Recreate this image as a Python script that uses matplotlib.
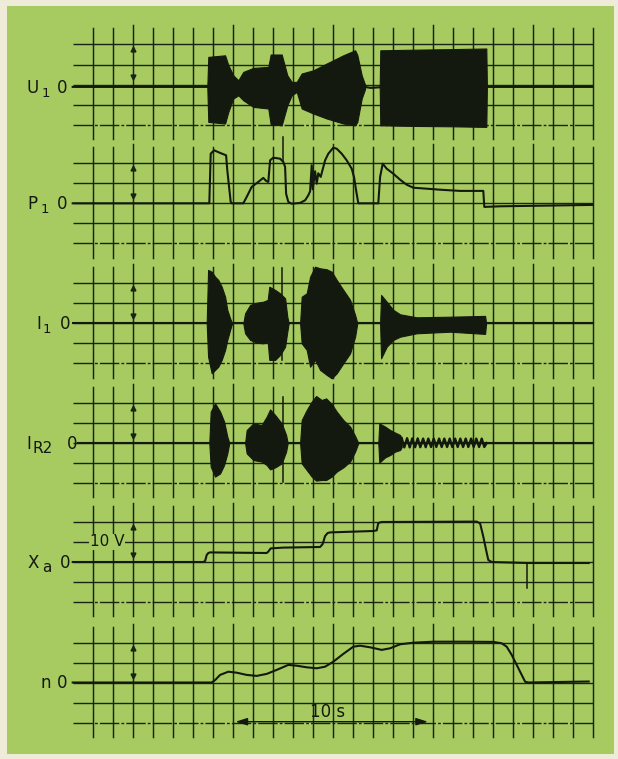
"""
Six-channel chart-recorder strip: U1, P1, I1, IR2, Xa, n on a common time base.
1 s per division, amplitudes in divisions.
"""

import matplotlib.pyplot as plt
from matplotlib.patches import Rectangle

# ----------------------------
# Sheet layout (pixels, 20 px per division)
# ----------------------------
W, H = 618, 759
DIV = 20.0
T0_PX = 92.7                     # first vertical grid line
ZERO_ROWS = [84.5, 203.3, 323.3, 443.0, 562.0, 682.5]
TRACE_SHIFT = [-0.12, 0, 0, 0, 0, 0]
N_COLS = 25

PAPER = "#a7ca61"
BORDER = "#efebd9"
INK = "#141910"
GRID = "#1b2314"

# ----------------------------
# U1 - envelope of the oscillating voltage
# ----------------------------
u1_t = [5.73, 5.78, 6.62, 6.78, 7.03, 7.28, 7.53, 8.03, 8.78, 8.90, 9.45,
        9.73, 9.95, 10.20, 10.45, 11.03, 11.70, 12.53, 13.12, 13.23, 13.45, 13.62]
u1_hi = [0, 1.50, 1.58, 1.09, 0.58, 0.33, 0.75, 0.95, 1.00, 1.62, 1.62,
         0.58, 0.25, 0.25, 0.67, 0.83, 1.17, 1.58, 1.83, 1.60, 0.58, 0.10]
u1_lo = [0, -1.75, -1.83, -1.25, -0.58, -0.42, -0.67, -1.00, -1.08, -1.88, -1.92,
         -0.92, -0.42, -0.25, -1.08, -1.33, -1.58, -1.83, -1.92, -1.75, -0.58, -0.10]
u1_block_t = [14.35, 14.38, 16.0, 18.0, 19.68, 19.71]
u1_block_hi = [0, 1.83, 1.86, 1.89, 1.92, 0]
u1_block_lo = [0, -1.92, -1.95, -1.97, -2.00, 0]
u1_line_t = [-1.0, 13.6, 13.9, 14.35, 19.7, 25.0]
u1_line_v = [0, 0, -0.05, -0.02, 0, 0]

# ----------------------------
# P1 - power
# ----------------------------
p1_t = [-1.0, 5.83, 5.90, 6.07, 6.37, 6.67, 6.73, 6.90, 6.95, 7.53, 7.70, 7.95,
        8.28, 8.53, 8.67, 8.78, 8.87, 9.03, 9.37, 9.53, 9.62, 9.67, 9.78, 9.95,
        10.37, 10.62, 10.78, 10.87, 10.95, 11.00, 11.12, 11.20, 11.28, 11.40,
        11.62, 11.78, 12.03, 12.20, 12.45, 12.70, 12.95, 13.07, 13.17, 13.28,
        14.28, 14.37, 14.50, 14.70, 15.03, 15.37, 15.70, 16.03, 16.70, 17.37,
        18.37, 19.53, 19.58, 20.37, 25.0]
p1_v = [0, 0, 2.48, 2.65, 2.52, 2.40, 1.65, 0.07, 0, 0, 0.32, 0.82,
        1.07, 1.27, 1.12, 1.07, 2.15, 2.28, 2.23, 2.07, 1.82, 0.48, 0.07, -0.02,
        0.02, 0.15, 0.40, 0.60, 1.90, 0.70, 1.60, 0.98, 1.50, 1.32,
        2.15, 2.48, 2.78, 2.73, 2.48, 2.15, 1.73, 1.30, 0.65, 0,
        0, 1.32, 1.98, 1.73, 1.48, 1.18, 0.93, 0.78, 0.73, 0.68,
        0.62, 0.62, -0.18, -0.15, -0.08]

# ----------------------------
# I1 - current bursts (upper / lower envelope)
# ----------------------------
i1_bursts = [
    ([5.70, 5.77, 5.95, 6.12, 6.28, 6.45, 6.62, 6.73, 6.87, 6.97],
     [0, 2.67, 2.58, 2.33, 2.17, 1.83, 1.33, 0.67, 0.25, 0],
     [0, -1.67, -2.50, -2.33, -2.17, -1.83, -1.33, -0.83, -0.33, 0]),
    ([7.53, 7.62, 7.87, 8.20, 8.53, 8.75, 8.83, 9.12, 9.37, 9.62, 9.73, 9.80],
     [0, 0.50, 0.92, 1.03, 1.08, 1.17, 1.83, 1.67, 1.50, 1.25, 0.33, 0],
     [0, -0.50, -0.83, -0.97, -1.00, -0.92, -1.83, -1.83, -1.58, -1.17, -0.42, 0]),
    ([10.37, 10.45, 10.70, 10.87, 11.12, 11.37, 11.70, 11.95, 12.20, 12.53,
      12.87, 13.12, 13.23],
     [0, 1.33, 1.50, 2.33, 2.83, 2.75, 2.70, 2.58, 2.17, 1.67, 1.17, 0.42, 0],
     [0, -1.00, -1.33, -2.17, -1.83, -2.33, -2.58, -2.75, -2.50, -2.00, -1.50, -0.67, 0]),
    ([14.37, 14.42, 14.70, 15.03, 15.37, 16.20, 17.87, 19.62, 19.67],
     [0, 1.42, 1.08, 0.67, 0.45, 0.30, 0.33, 0.37, 0],
     [0, -1.75, -1.17, -0.83, -0.67, -0.50, -0.42, -0.53, 0]),
]

# ----------------------------
# IR2 - rotor current
# ----------------------------
ir2_bursts = [
    ([5.83, 5.90, 6.12, 6.37, 6.57, 6.73, 6.83],
     [0, 1.57, 1.98, 1.57, 1.07, 0.32, 0],
     [0, -1.18, -1.68, -1.52, -1.10, -0.52, 0]),
    ([7.62, 7.70, 8.03, 8.45, 8.70, 8.87, 9.12, 9.45, 9.67, 9.75],
     [0, 0.65, 0.98, 0.90, 1.32, 1.68, 1.40, 0.98, 0.40, 0],
     [0, -0.52, -0.85, -0.93, -1.10, -1.32, -1.22, -1.02, -0.43, 0]),
    ([10.37, 10.45, 10.70, 10.95, 11.17, 11.45, 11.67, 11.95, 12.20, 12.53,
      12.87, 13.12, 13.28],
     [0, 1.15, 1.65, 2.07, 2.35, 2.15, 2.23, 1.95, 1.57, 1.15, 0.82, 0.35, 0],
     [0, -1.02, -1.35, -1.68, -1.88, -1.85, -1.85, -1.68, -1.43, -1.22, -0.93, -0.43, 0]),
    ([14.28, 14.33, 14.62, 14.87, 15.12, 15.37, 15.45],
     [0, 0.98, 0.82, 0.65, 0.52, 0.40, 0.22],
     [0, -0.98, -0.72, -0.60, -0.43, -0.35, -0.20]),
]
ir2_ripple_t = [15.45, 15.58, 15.72, 15.85, 15.98, 16.12, 16.25, 16.38, 16.52,
                16.65, 16.78, 16.92, 17.05, 17.18, 17.32, 17.45, 17.58, 17.72,
                17.85, 17.98, 18.12, 18.25, 18.38, 18.52, 18.65, 18.78, 18.92,
                19.05, 19.18, 19.32, 19.45, 19.58, 19.70]
ir2_ripple_v = [0.24, -0.22, 0.24, -0.22, 0.23, -0.21, 0.23, -0.21, 0.22,
                -0.21, 0.22, -0.20, 0.22, -0.20, 0.22, -0.20, 0.22, -0.20,
                0.22, -0.20, 0.22, -0.20, 0.22, -0.20, 0.22, -0.20, 0.22,
                -0.20, 0.22, -0.20, 0.22, -0.20, 0]

# ----------------------------
# Xa - controller output (10 V per division)
# ----------------------------
xa_t = [-1.0, 5.53, 5.62, 5.70, 5.78, 5.87, 8.70, 8.78, 8.90, 9.53, 11.37,
        11.50, 11.62, 11.75, 11.87, 14.03, 14.20, 14.28, 14.45, 19.20, 19.37,
        19.53, 19.67, 19.78, 19.95, 21.70, 24.8]
xa_v = [0, 0, 0.05, 0.35, 0.45, 0.48, 0.45, 0.52, 0.68, 0.72, 0.75,
        0.90, 1.30, 1.45, 1.48, 1.55, 1.58, 1.95, 2.00, 2.02, 1.93,
        1.27, 0.60, 0.10, 0.0, -0.05, -0.05]

# ----------------------------
# n - speed
# ----------------------------
n_t = [-1.0, 5.95, 6.12, 6.37, 6.78, 7.20, 7.70, 8.20, 8.70, 9.20, 9.78,
       10.20, 10.70, 11.20, 11.62, 12.03, 12.53, 13.03, 13.37, 13.87, 14.45,
       14.87, 15.37, 16.03, 17.03, 18.70, 20.03, 20.45, 20.70, 20.95, 21.20,
       21.45, 21.62, 21.78, 24.8]
n_v = [0, 0, 0.12, 0.38, 0.54, 0.49, 0.38, 0.33, 0.43, 0.63, 0.88,
       0.84, 0.76, 0.71, 0.79, 1.04, 1.43, 1.79, 1.84, 1.76, 1.63,
       1.71, 1.91, 1.99, 2.04, 2.04, 2.03, 1.96, 1.79, 1.38, 0.88,
       0.38, 0.04, 0.0, 0.05]

# single switching spikes: (channel, time, top, bottom)
spikes = [(1, 9.50, 3.30, 2.10), (2, 9.45, 2.75, -1.83),
          (3, 9.50, 2.30, -1.93), (4, 21.70, -0.05, -1.32)]

labels = [("U", "1", 26, 42, 57), ("P", "1", 27, 41, 57), ("I", "1", 36, 43, 60),
          ("I", "R2", 26, 32, 67), ("X", "a", 28, 42, 60), ("n", "", 40, 0, 57)]
trace_start = [73, 73, 73, 78, 73, 73]


def px_x(px):
    return (px - T0_PX) / DIV


def base(i):
    return -ZERO_ROWS[i] / DIV


fig = plt.figure(figsize=(W / 100, H / 100), dpi=100, facecolor=BORDER)
ax = fig.add_axes([0, 0, 1, 1])
ax.set_xlim(px_x(0), px_x(W))
ax.set_ylim(-H / DIV, 0)
ax.axis("off")

ax.add_patch(Rectangle((px_x(7), -754 / DIV), (614 - 7) / DIV, (754 - 6) / DIV,
                       facecolor=PAPER, edgecolor="none", zorder=0))

# ----------------------------
# Grid
# ----------------------------
for i in range(6):
    y0 = base(i)
    for k in range(-2, 3):
        ls = (0, (14, 1.5, 2, 1.5)) if k == -2 else "-"
        ax.plot([px_x(73), N_COLS], [y0 + k, y0 + k], color=GRID, lw=1.0,
                ls=ls, zorder=1, solid_capstyle="butt")
    for c in range(N_COLS + 1):
        top = 2.95 if c % 5 == 2 else 2.8
        ax.plot([c, c], [y0 - 2.72, y0 + top], color=GRID, lw=1.05, zorder=1)
    # calibration arrow marks
    ax.plot([2], [y0 + 1.75], marker="^", ms=3.5, color=GRID, zorder=2)
    ax.plot([2], [y0 + 0.35], marker="v", ms=3.5, color=GRID, zorder=2)

# ----------------------------
# Traces
# ----------------------------
def burst(i, t, hi, lo):
    y0 = base(i) + TRACE_SHIFT[i]
    ax.fill_between(t, [y0 + h for h in hi], [y0 + l for l in lo],
                    color=INK, lw=0.8, zorder=3)


def trace(i, t, v, lw=1.5):
    y0 = base(i) + TRACE_SHIFT[i]
    ax.plot(t, [y0 + a for a in v], color=INK, lw=lw, zorder=3,
            solid_joinstyle="round")


# U1
trace(0, u1_line_t, u1_line_v)
burst(0, u1_t, u1_hi, u1_lo)
burst(0, u1_block_t, u1_block_hi, u1_block_lo)

# P1
trace(1, p1_t, p1_v)

# I1 / IR2
for i, bursts in ((2, i1_bursts), (3, ir2_bursts)):
    trace(i, [px_x(trace_start[i]), 25.0], [0, 0])
    for t, hi, lo in bursts:
        burst(i, t, hi, lo)
trace(3, ir2_ripple_t, ir2_ripple_v, lw=1.7)

# Xa, n
trace(4, xa_t, xa_v)
trace(5, n_t, n_v)

for i, t, top, bot in spikes:
    y0 = base(i) + TRACE_SHIFT[i]
    ax.plot([t, t], [y0 + bot, y0 + top], color=INK, lw=1.1, zorder=3)

# ----------------------------
# Channel labels
# ----------------------------
for i, (name, sub, x_name, x_sub, x_zero) in enumerate(labels):
    row = ZERO_ROWS[i] - TRACE_SHIFT[i] * DIV
    ax.text(px_x(x_name), -(row + 6) / DIV, name, fontsize=12, color=INK,
            ha="left", va="baseline", zorder=4)
    if sub:
        ax.text(px_x(x_sub), -(row + 10) / DIV, sub, fontsize=9.5 if sub == "1" else 11,
                color=INK, ha="left", va="baseline", zorder=4)
    ax.text(px_x(x_zero), -(row + 6) / DIV, "0", fontsize=12, color=INK,
            ha="left", va="baseline", zorder=4)

# 10 V scale mark on the Xa channel
ax.text(px_x(90), base(4) + 1.0, "10 V", fontsize=11, color=INK, ha="left",
        va="center", zorder=4,
        bbox=dict(boxstyle="square,pad=0.05", fc=PAPER, ec="none"))

# 10 s time scale
ax.annotate("", xy=(7.0, base(5) - 1.96), xytext=(16.9, base(5) - 1.96),
            arrowprops=dict(arrowstyle="<|-|>,head_length=0.7,head_width=0.22",
                            color=INK, lw=1.0, mutation_scale=10), zorder=4)
ax.text(11.75, base(5) - 1.72, "10 s", fontsize=12, color=INK, ha="center",
        va="baseline", zorder=4)

fig.savefig("out.png", dpi=100, facecolor=BORDER)
